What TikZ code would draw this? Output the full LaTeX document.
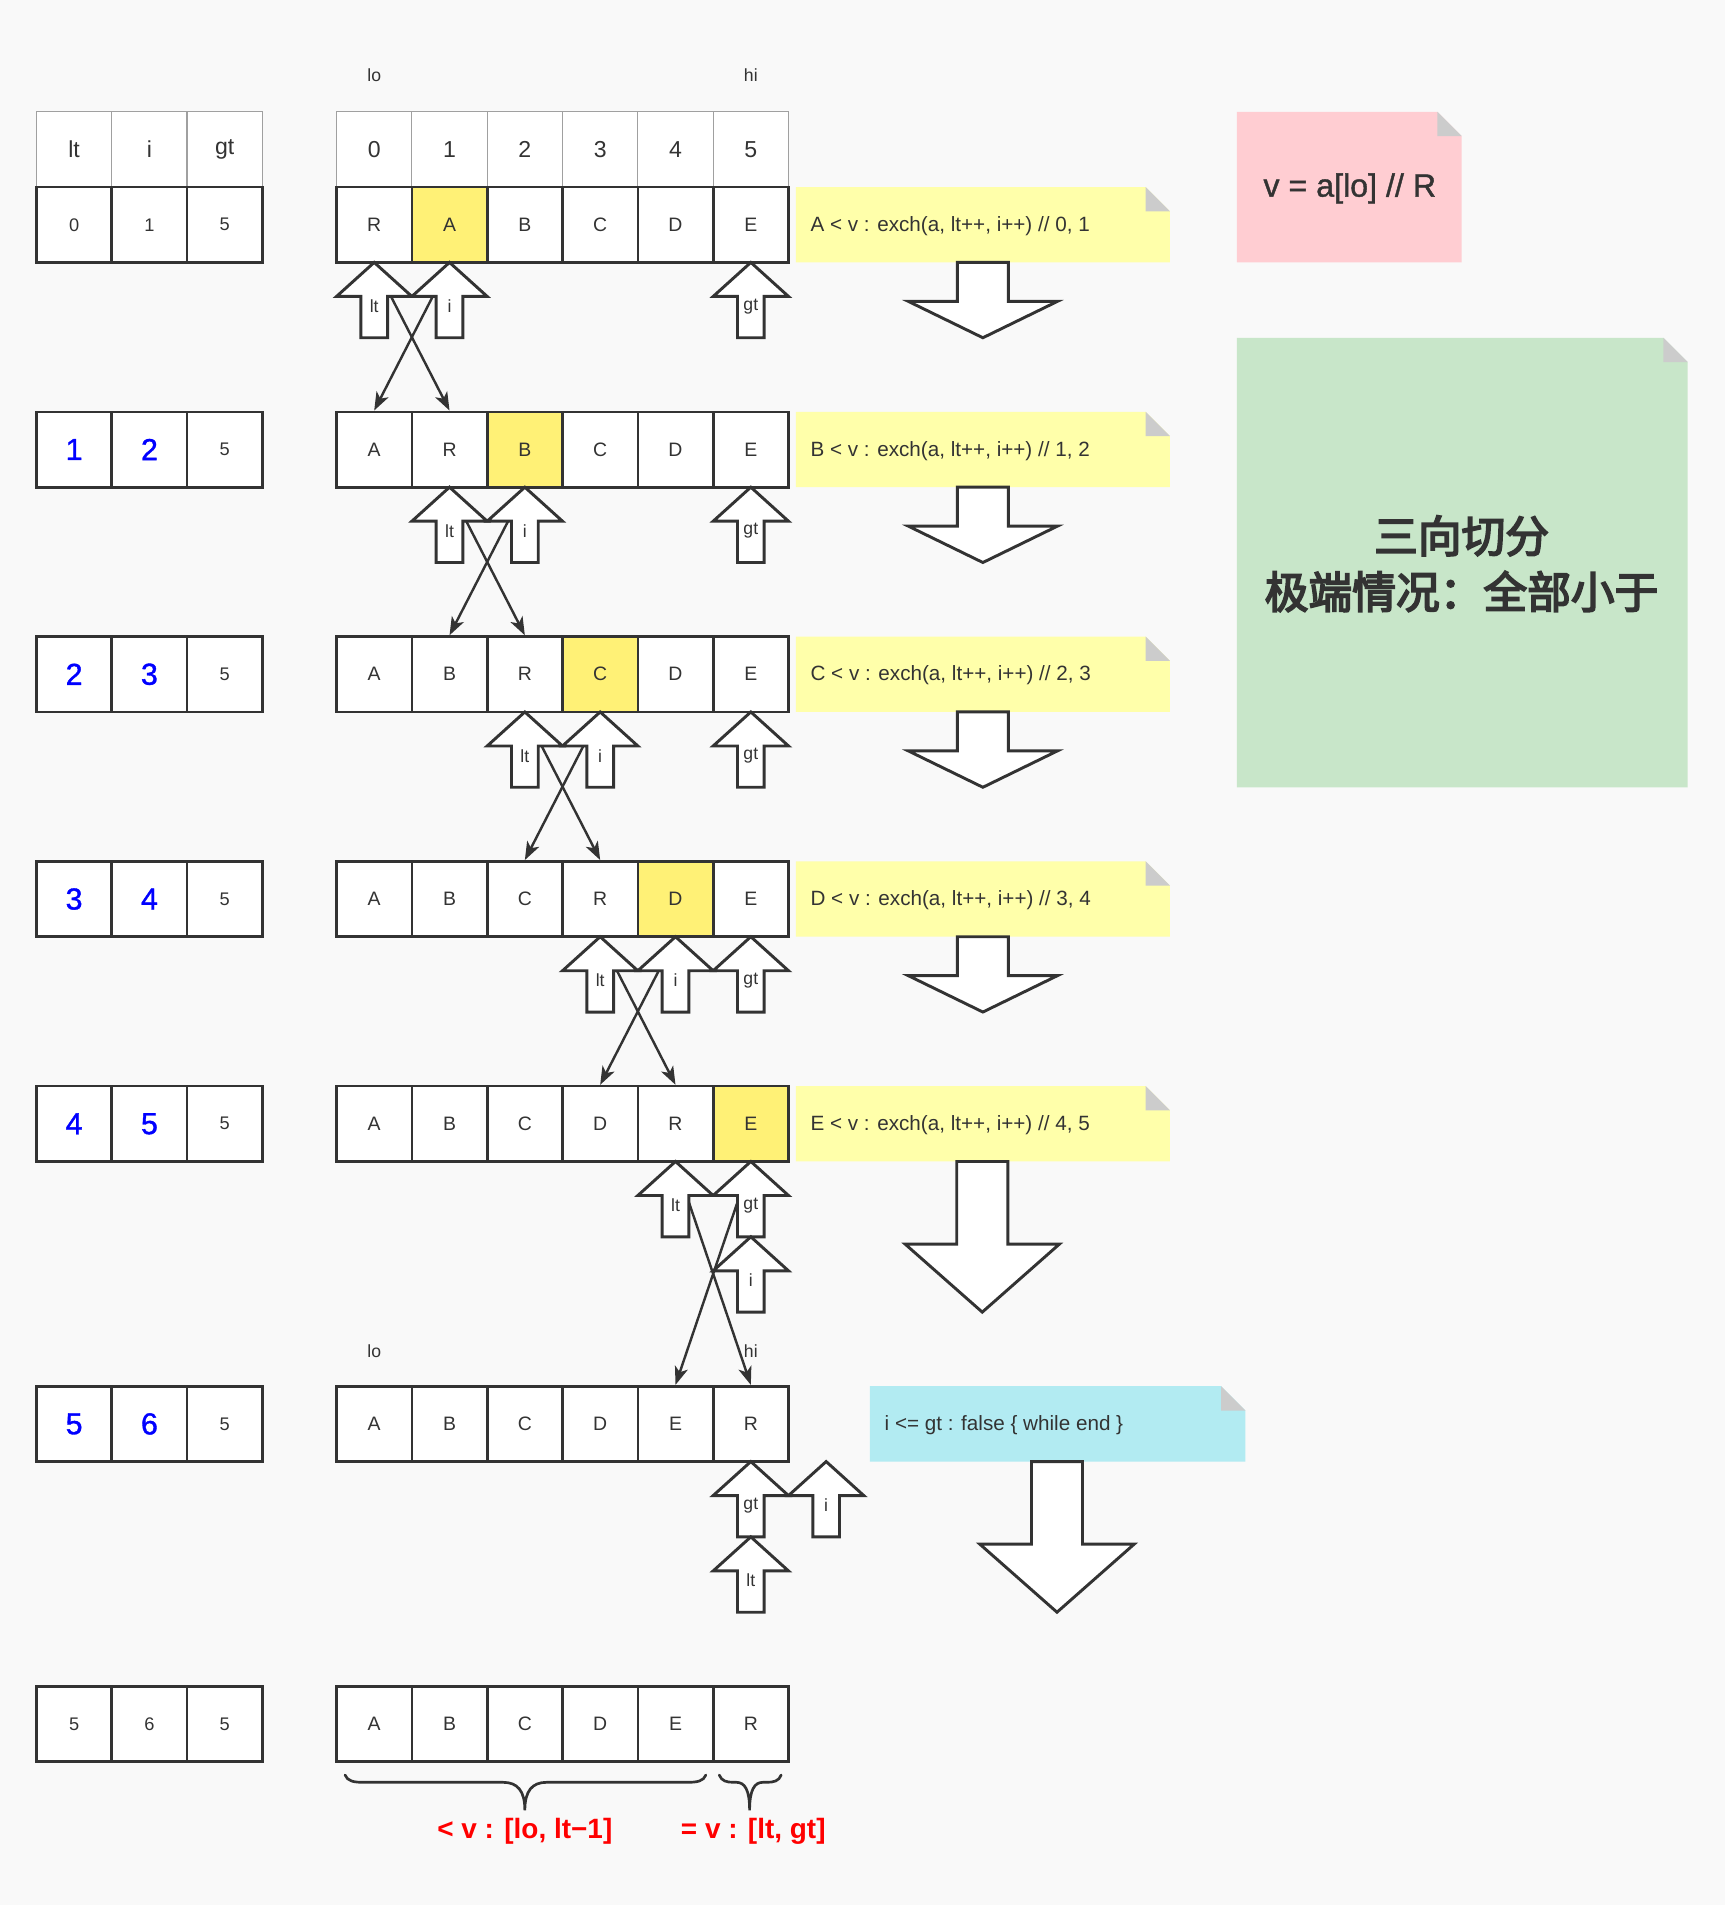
\documentclass[tikz,border=0pt]{standalone}
\usepackage{fontspec}
\setmainfont{Liberation Sans}
\newfontfamily\medfont[FakeBold=1.2]{Liberation Sans}
\newfontfamily\cjkfont[FakeBold=4]{Noto Sans CJK SC}
\usetikzlibrary{arrows.meta}
\definecolor{bgc}{HTML}{F9F9F9}
\definecolor{dk}{HTML}{333333}
\definecolor{hdline}{HTML}{A0A0A0}
\definecolor{hl}{HTML}{FFF176}
\definecolor{noteyel}{HTML}{FFFFAA}
\definecolor{notepink}{HTML}{FFCDD2}
\definecolor{notegreen}{HTML}{C8E6C9}
\definecolor{notecyan}{HTML}{B2EBF2}
\definecolor{foldc}{HTML}{CCCCCC}
\definecolor{numblue}{HTML}{0000FF}
\definecolor{labred}{HTML}{FF0000}
\tikzset{
  cell/.style={draw=dk, line width=2.2pt, fill=white, minimum width=62pt, minimum height=62pt, inner sep=0pt, text=dk, font=\fontsize{16}{19}\selectfont},
  hcell/.style={cell, fill=hl},
  headcell/.style={draw=hdline, line width=1pt, fill=white, minimum width=62pt, minimum height=62pt, inner sep=0pt, text=dk, font=\fontsize{19}{23}\selectfont},
  valcell/.style={cell, font=\fontsize{15}{18}\selectfont},
  bluecell/.style={cell, text=numblue, font=\medfont\fontsize{25}{30}\selectfont},
  ptrlabel/.style={text=dk, font=\fontsize{14.5}{17}\selectfont, inner sep=0pt},
  blockarrow/.style={draw=dk, line width=2.4pt, fill=white, line join=miter},
  xline/.style={draw=dk, line width=2pt, -{Stealth[length=15pt,width=11pt,inset=4pt]}},
  notetext/.style={text=dk, font=\fontsize{17}{20}\selectfont, anchor=west, inner sep=0pt},
  idx/.style={text=dk, font=\fontsize{14.5}{17}\selectfont, inner sep=0pt},
  redlab/.style={text=labred, font=\bfseries\fontsize{23}{27}\selectfont, inner sep=0pt},
  bracepath/.style={draw=dk, line width=2.2pt, line cap=round},
}
% up block arrow: name, x, tip y, label
\newcommand\UpArr[4]{%
  \draw[blockarrow] (#2,#3) -- ++(31,28) -- ++(-20,0) -- ++(0,34) -- ++(-22,0) -- ++(0,-34) -- ++(-20,0) -- cycle;
  \node[ptrlabel] (#1) at (#2,#3+36) {#4};
}
% down block arrow: cx, top, headbase, tip, shafthalf, headhalf
\newcommand\DownArr[6]{%
  \draw[blockarrow] (#1-#5,#2) -- (#1+#5,#2) -- (#1+#5,#3) -- (#1+#6,#3) -- (#1,#4) -- (#1-#6,#3) -- (#1-#5,#3) -- cycle;
}
% note: x1,y1,x2,y2,colour
\newcommand\NoteBox[5]{%
  \fill[#5] (#1,#2) -- (#3-20,#2) -- (#3,#2+20) -- (#3,#4) -- (#1,#4) -- cycle;
  \fill[foldc] (#3-20,#2) -- (#3-20,#2+20) -- (#3,#2+20) -- cycle;
}
% array row: row name, list of text/style pairs (centre y in \rowy)
\newcommand\ArrRow[2]{%
  \foreach \lab/\sty [count=\k from 0] in {#2} {
    \node[\sty] (#1a\k) at (308+62*\k,\rowy) {\lab};
  }
}
\begin{document}
\begin{tikzpicture}[x=1pt,y=-1pt]
\useasboundingbox (0,0) rectangle (1420,1568);
\fill[bgc] (0,0) rectangle (1420,1568);

% ---------- header rows ----------
\node[headcell] (hl0) at (61,123) {lt};
\node[headcell] (hl1) at (123,123) {i};
\node[headcell] (hl2) at (185,123) {gt};
\foreach \k in {0,...,5} {
  \node[headcell] (ha\k) at (308+62*\k,123) {\k};
}
\node[idx] (lo1) at (308,62) {lo};
\node[idx] (hi1) at (618,62) {hi};

% ---------- left tables ----------
\node[valcell] (r1l0) at (61,185) {0};
\node[valcell] (r1l1) at (123,185) {1};
\node[valcell] (r1l2) at (185,185) {5};
\foreach \r/\y/\p/\q in {2/370/1/2, 3/555/2/3, 4/740/3/4, 5/925/4/5, 6/1172/5/6} {
  \node[bluecell] (r\r l0) at (61,\y) {\p};
  \node[bluecell] (r\r l1) at (123,\y) {\q};
  \node[valcell] (r\r l2) at (185,\y) {5};
}
\node[valcell] (r7l0) at (61,1419) {5};
\node[valcell] (r7l1) at (123,1419) {6};
\node[valcell] (r7l2) at (185,1419) {5};

% ---------- arrays ----------
\def\rowy{185}\ArrRow{r1}{R/cell, A/hcell, B/cell, C/cell, D/cell, E/cell}
\def\rowy{370}\ArrRow{r2}{A/cell, R/cell, B/hcell, C/cell, D/cell, E/cell}
\def\rowy{555}\ArrRow{r3}{A/cell, B/cell, R/cell, C/hcell, D/cell, E/cell}
\def\rowy{740}\ArrRow{r4}{A/cell, B/cell, C/cell, R/cell, D/hcell, E/cell}
\def\rowy{925}\ArrRow{r5}{A/cell, B/cell, C/cell, D/cell, R/cell, E/hcell}
\def\rowy{1172}\ArrRow{r6}{A/cell, B/cell, C/cell, D/cell, E/cell, R/cell}
\def\rowy{1419}\ArrRow{r7}{A/cell, B/cell, C/cell, D/cell, E/cell, R/cell}

\node[idx] (lo2) at (308,1112) {lo};
\node[idx] (hi2) at (618,1112) {hi};

% ---------- exchange connectors ----------
\draw[xline] (r1a0.south) -- (r2a1.north);
\draw[xline] (r1a1.south) -- (r2a0.north);
\draw[xline] (r2a1.south) -- (r3a2.north);
\draw[xline] (r2a2.south) -- (r3a1.north);
\draw[xline] (r3a2.south) -- (r4a3.north);
\draw[xline] (r3a3.south) -- (r4a2.north);
\draw[xline] (r4a3.south) -- (r5a4.north);
\draw[xline] (r4a4.south) -- (r5a3.north);
\draw[xline] (r5a4.south) -- (r6a5.north);
\draw[xline] (r5a5.south) -- (r6a4.north);

% ---------- pointer arrows ----------
\UpArr{p1lt}{308}{216}{lt}
\UpArr{p1i}{370}{216}{i}
\UpArr{p1gt}{618}{216}{gt}
\UpArr{p2lt}{370}{401}{lt}
\UpArr{p2i}{432}{401}{i}
\UpArr{p2gt}{618}{401}{gt}
\UpArr{p3lt}{432}{586}{lt}
\UpArr{p3i}{494}{586}{i}
\UpArr{p3gt}{618}{586}{gt}
\UpArr{p4lt}{494}{771}{lt}
\UpArr{p4i}{556}{771}{i}
\UpArr{p4gt}{618}{771}{gt}
\UpArr{p5lt}{556}{956}{lt}
\UpArr{p5gt}{618}{956}{gt}
\UpArr{p5i}{618}{1018}{i}
\UpArr{p6gt}{618}{1203}{gt}
\UpArr{p6i}{680}{1203}{i}
\UpArr{p6lt}{618}{1265}{lt}

% ---------- notes ----------
\NoteBox{655}{154}{963}{216}{noteyel}
\node[notetext] (n1) at (667,186) {A < v : exch(a, lt++, i++) // 0, 1};
\NoteBox{655}{339}{963}{401}{noteyel}
\node[notetext] (n2) at (667,371) {B < v : exch(a, lt++, i++) // 1, 2};
\NoteBox{655}{524}{963}{586}{noteyel}
\node[notetext] (n3) at (667,556) {C < v : exch(a, lt++, i++) // 2, 3};
\NoteBox{655}{709}{963}{771}{noteyel}
\node[notetext] (n4) at (667,741) {D < v : exch(a, lt++, i++) // 3, 4};
\NoteBox{655}{894}{963}{956}{noteyel}
\node[notetext] (n5) at (667,926) {E < v : exch(a, lt++, i++) // 4, 5};
\NoteBox{716}{1141}{1025}{1203}{notecyan}
\node[notetext] (n6) at (728,1173) {i <= gt : false \{ while end \}};

\NoteBox{1018}{92}{1203}{216}{notepink}
\node[text=dk, font=\medfont\fontsize{26.5}{30}\selectfont, inner sep=0pt] (pv) at (1111,155) {v = a[lo] // R};
\NoteBox{1018}{278}{1389}{648}{notegreen}
\node[text=dk, font=\cjkfont\fontsize{36}{46}\selectfont, align=center, inner sep=0pt] (title) at (1203,464) {三向切分\\极端情况：全部小于};

% ---------- step arrows ----------
\DownArr{809}{216}{248}{278}{21}{61.5}
\DownArr{809}{401}{433}{463}{21}{61.5}
\DownArr{809}{586}{618}{648}{21}{61.5}
\DownArr{809}{771}{803}{833}{21}{61.5}
\DownArr{808.5}{956}{1024}{1080}{21}{63.5}
\DownArr{870}{1203}{1271}{1327}{21}{63.5}

% ---------- braces ----------
\draw[bracepath] (284,1461) .. controls (286,1466) and (291,1467) .. (299,1467) -- (414,1467) .. controls (426,1467) and (432,1474) .. (432,1490)
  .. controls (432,1474) and (438,1467) .. (450,1467) -- (566,1467) .. controls (574,1467) and (579,1466) .. (581,1461);
\draw[bracepath] (592,1461) .. controls (594,1466) and (598,1467) .. (604,1467) -- (606,1467) .. controls (613,1467) and (617,1473) .. (617,1490)
  .. controls (617,1473) and (621,1467) .. (628,1467) -- (631,1467) .. controls (637,1467) and (641,1466) .. (643,1461);
\node[redlab] (lessl) at (432,1507) {< v : [lo, lt−1]};
\node[redlab] (eql) at (620,1507) {= v : [lt, gt]};
\end{tikzpicture}
\end{document}
